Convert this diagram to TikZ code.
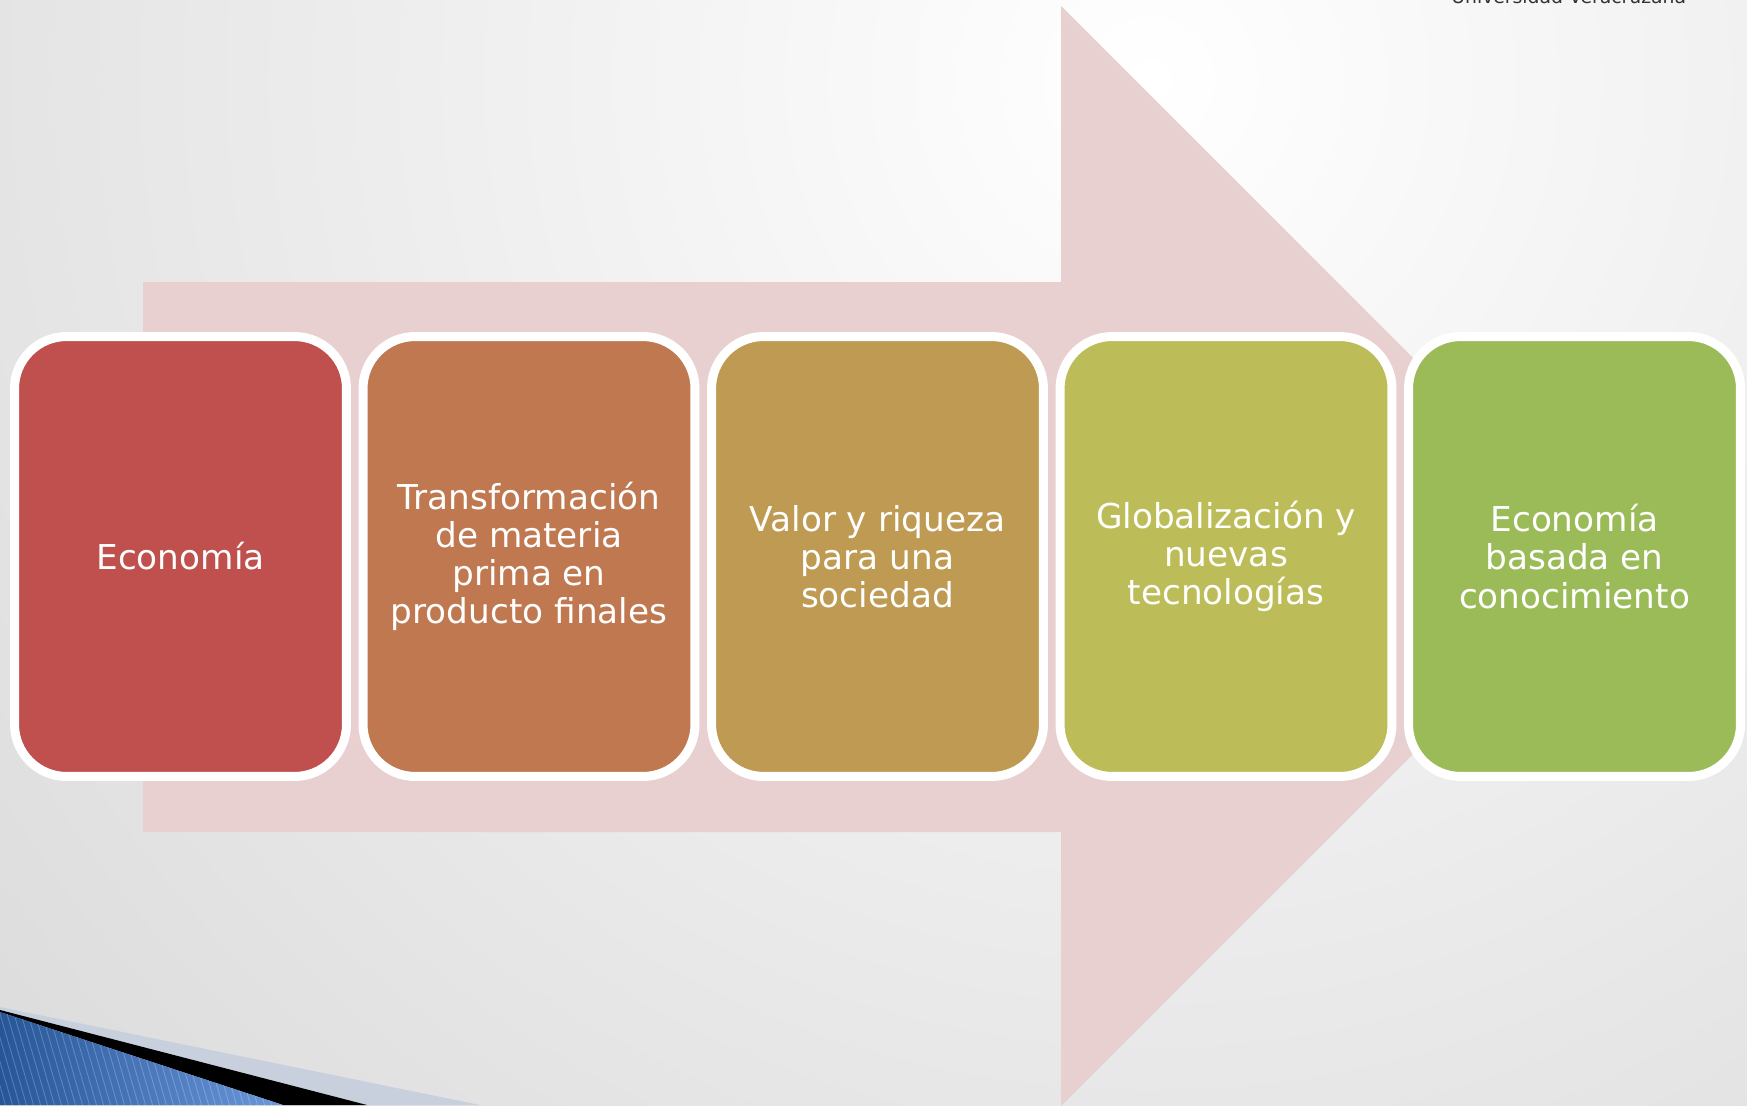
\documentclass[tikz,border=0pt]{standalone}
\usepackage{fontspec}
\newfontfamily\dv{DejaVu Sans}
\definecolor{arrowpink}{RGB}{232,208,209}
\definecolor{c1}{RGB}{192,80,77}
\definecolor{c2}{RGB}{191,120,80}
\definecolor{c3}{RGB}{190,154,82}
\definecolor{c4}{RGB}{188,188,88}
\definecolor{c5}{RGB}{155,187,89}
\definecolor{bggray}{RGB}{198,198,198}
\definecolor{band}{RGB}{200,208,222}
\definecolor{blueA}{RGB}{38,86,152}
\definecolor{blueB}{RGB}{108,152,220}
\begin{document}
\begin{tikzpicture}[x=0.02cm,y=-0.02cm,
  stage/.style={draw=white, line width=0.18cm, rounded corners=1.04cm,
    minimum width=6.64cm, minimum height=8.8cm, text=white, align=center,
    font=\dv\fontsize{19.5}{21.7}\selectfont, inner sep=0pt}]
\useasboundingbox (0,0) rectangle (1747,1105);
\begin{scope}
  \clip (0,0) rectangle (1747,1105);
  \shade[inner color=white, outer color=bggray] (1150,80) circle (2450);
  % arrow
  \fill[arrowpink] (143,282) -- (1061,282) -- (1061,6) -- (1611,556) -- (1061,1106) -- (1061,832) -- (143,832) -- cycle;
  % bottom-left decoration
  \fill[band] (0,1007) -- (480,1105) -- (367,1105) -- (0,1011) -- cycle;
  \fill[black] (0,1010) -- (367,1105) -- (283,1105) -- (0,1012) -- cycle;
  \begin{scope}
    \clip (0,1012) -- (283,1105) -- (0,1105) -- cycle;
    \shade[left color=blueA, right color=blueB] (0,1000) rectangle (290,1105);
    \foreach \i in {-60,-53,...,300}
      \draw[white, opacity=0.22, line width=0.5pt] (\i,1000) -- ++(32,110);
  \end{scope}
\end{scope}
% header text
\node[anchor=base west, inner sep=0pt, font=\dv\fontsize{10.7}{12}\selectfont, text=black!80] (uv) at (1451,4) {Universidad Veracruzana};
% stages
\node[stage, fill=c1] (b1) at (180.5,556.5) {Economía};
\node[stage, fill=c2] (b2) at (529,556.5) {Transformación\\de materia\\prima en\\producto finales};
\node[stage, fill=c3] (b3) at (877.5,556.5) {Valor y riqueza\\para una\\sociedad};
\node[stage, fill=c4] (b4) at (1226,556.5) {Globalización y\\nuevas\\tecnologías};
\node[stage, fill=c5] (b5) at (1574.5,556.5) {Economía\\basada en\\conocimiento};
\end{tikzpicture}
\end{document}
